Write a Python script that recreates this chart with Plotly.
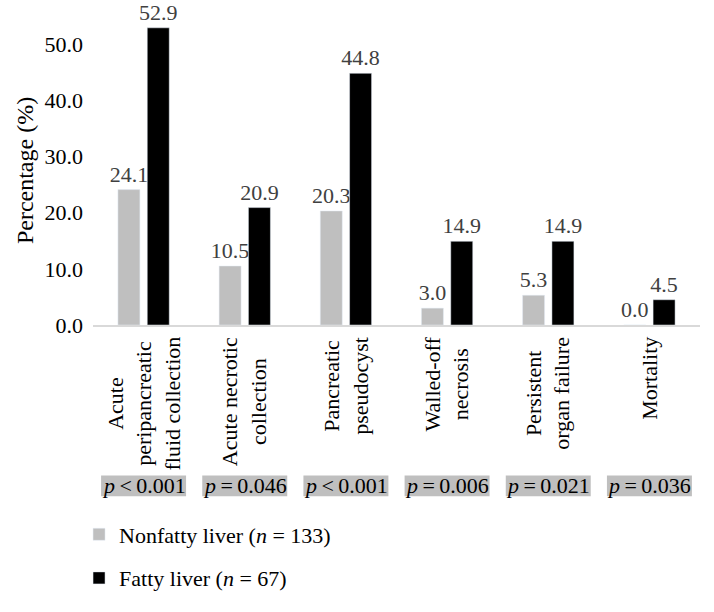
import plotly.graph_objects as go

categories = ["Acute<br>peripancreatic<br>fluid collection", "Acute necrotic<br>collection",
              "Pancreatic<br>pseudocyst", "Walled-off<br>necrosis",
              "Persistent<br>organ failure", "Mortality"]
nonfatty = [24.1, 10.5, 20.3, 3.0, 5.3, 0.0]
fatty = [52.9, 20.9, 44.8, 14.9, 14.9, 4.5]
p_values = ["<i>p</i>\u2009<\u20090.001", "<i>p</i>\u2009=\u20090.046", "<i>p</i>\u2009<\u20090.001",
            "<i>p</i>\u2009=\u20090.006", "<i>p</i>\u2009=\u20090.021", "<i>p</i>\u2009=\u20090.036"]

FONT = "Liberation Serif"

fig = go.Figure()
fig.add_trace(go.Bar(
    x=categories, y=nonfatty, name="Nonfatty liver (<i>n</i> = 133)",
    marker=dict(color="#bfbfbf"), legendgroup="a",
    text=[f"{v:.1f}" for v in nonfatty], textposition="outside",
    constraintext="none", cliponaxis=False,
    textfont=dict(family=FONT, size=22, color="#404040")
))
fig.add_trace(go.Bar(
    x=categories, y=fatty, name="Fatty liver (<i>n</i> = 67)",
    marker=dict(color="#000000"), legendgroup="b",
    text=[f"{v:.1f}" for v in fatty], textposition="outside",
    constraintext="none", cliponaxis=False,
    textfont=dict(family=FONT, size=22, color="#404040")
))

for i, (cat, p) in enumerate(zip(categories, p_values)):
    # category name, rotated, lines centred
    fig.add_annotation(
        x=cat, xref="x", y=-0.032, yref="paper", yanchor="top",
        text=cat, textangle=-90, showarrow=False, align="center",
        font=dict(family=FONT, size=22, color="#000000")
    )
    # grey p-value box
    fig.add_shape(type="rect", xref="x", yref="paper",
                  x0=i - 0.42, x1=i + 0.42, y0=-0.554, y1=-0.487,
                  fillcolor="#bfbfbf", line=dict(width=0))
    fig.add_annotation(
        x=cat, xref="x", y=-0.521, yref="paper", yanchor="middle",
        text=p, showarrow=False,
        font=dict(family=FONT, size=22, color="#000000")
    )

fig.update_layout(
    width=714, height=612,
    margin=dict(l=93, r=14, t=16, b=284),
    paper_bgcolor="white", plot_bgcolor="white",
    barmode="group", bargap=0.42, bargroupgap=0.25,
    hovermode=False,
    font=dict(family=FONT, size=22, color="#000000"),
    xaxis=dict(showline=True, linecolor="#d9d9d9", linewidth=1.5,
               showticklabels=False, ticks="", showgrid=False, automargin=False),
    yaxis=dict(range=[0, 55], tickvals=[0, 10, 20, 30, 40, 50],
               tickformat=".1f", showgrid=False, zeroline=False,
               showline=False, ticks="", automargin=False, ticklabelstandoff=9,
               tickfont=dict(family=FONT, size=22, color="#000000"),
               title=dict(text="Percentage (%)", standoff=4,
                          font=dict(family=FONT, size=24))),
    legend=dict(x=-0.023, xanchor="left", y=-0.61, yanchor="top",
                orientation="v", tracegroupgap=12,
                font=dict(family=FONT, size=22, color="#000000")),
    showlegend=True,
)

# no modebar, and drop the page's default body margin
fig.write_html("out.html", config={"displayModeBar": False},
               post_script="document.body.style.margin='0';")
